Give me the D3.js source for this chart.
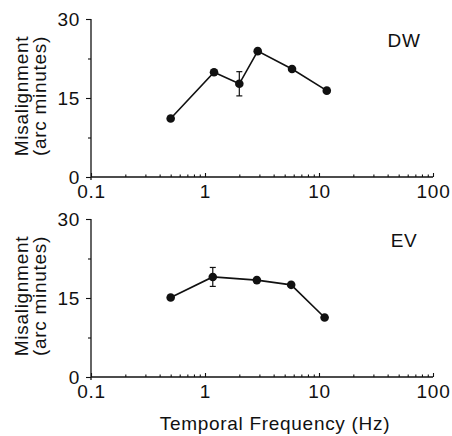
<!DOCTYPE html>
<html>
<head>
<meta charset="utf-8">
<script src="https://cdn.jsdelivr.net/npm/d3@7"></script>
<style>
  body { margin: 0; background: #fff; }
  text { font-family: "Liberation Sans", Arial, sans-serif; fill: #111; }
</style>
</head>
<body>
<div id="chart"></div>
<script>
// data
var dwFreq = [0.5, 1.2, 2, 2.9, 5.8, 11.7];
var dwMis  = [11.1, 19.9, 17.7, 23.9, 20.5, 16.4];
var dwErr  = [0, 0, 2.3, 0, 0, 0];

var evFreq = [0.5, 1.17, 2.85, 5.7, 11.2];
var evMis  = [15.1, 19.0, 18.4, 17.5, 11.3];
var evErr  = [0, 1.8, 0, 0, 0];

var yMajor = [0, 15, 30];
var yMinor = [7.5, 22.5];
var xMajor = [0.1, 1, 10, 100];

var panels = [
    { name: "DW", freq: dwFreq, mis: dwMis, err: dwErr, top: 19,  bottom: 177 },
    { name: "EV", freq: evFreq, mis: evMis, err: evErr, top: 219, bottom: 377 }
];

var width = 452, height = 436;
var fontSize = 19;
var spacing = "0.7px";

var svg = d3.select("#chart").append("svg")
    .attr("width", width)
    .attr("height", height);

var x = d3.scaleLog().domain([0.1, 100]).range([91, 433]);

// minor ticks 2..9 in each decade
var xMinor = [];
[0.1, 1, 10].forEach(function(d) {
    for (var k = 2; k <= 9; k++) xMinor.push(d * k);
});

function styleText(sel) {
    sel.selectAll("text")
        .style("font-size", fontSize + "px")
        .style("letter-spacing", spacing)
        .attr("fill", "#111");
}

panels.forEach(function(p) {
    var y = d3.scaleLinear().domain([0, 30]).range([p.bottom, p.top]);
    var g = svg.append("g");

    // x axis line
    g.append("line")
        .attr("x1", x(0.1)).attr("x2", x(100))
        .attr("y1", y(0)).attr("y2", y(0))
        .attr("stroke", "#111").attr("stroke-width", 1.3);

    // y axis line (runs a bit past the x axis)
    g.append("line")
        .attr("x1", x(0.1)).attr("x2", x(0.1))
        .attr("y1", y(30)).attr("y2", y(0) + 3)
        .attr("stroke", "#111").attr("stroke-width", 1.3);

    // x ticks, pointing up
    var xa = g.append("g")
        .attr("transform", "translate(0," + y(0) + ")")
        .call(d3.axisBottom(x).tickValues(xMajor)
            .tickFormat(function(d) { return d; })
            .tickSizeInner(-4).tickSizeOuter(0).tickPadding(8));
    xa.select(".domain").remove();
    styleText(xa);

    var xm = g.append("g")
        .attr("transform", "translate(0," + y(0) + ")")
        .call(d3.axisBottom(x).tickValues(xMinor)
            .tickFormat("").tickSizeInner(-2.5).tickSizeOuter(0));
    xm.select(".domain").remove();

    // y ticks, pointing left
    var ya = g.append("g")
        .attr("transform", "translate(" + x(0.1) + ",0)")
        .call(d3.axisLeft(y).tickValues(yMajor)
            .tickSizeInner(5).tickSizeOuter(0).tickPadding(6));
    ya.select(".domain").remove();
    styleText(ya);

    var ym = g.append("g")
        .attr("transform", "translate(" + x(0.1) + ",0)")
        .call(d3.axisLeft(y).tickValues(yMinor)
            .tickFormat("").tickSizeInner(3).tickSizeOuter(0));
    ym.select(".domain").remove();

    g.selectAll(".tick line").attr("stroke", "#111").attr("stroke-width", 1.1);

    // y label
    var yc = (p.top + p.bottom) / 2 - 2;
    var lab = g.append("text")
        .attr("transform", "translate(28," + yc + ") rotate(-90)")
        .attr("text-anchor", "middle")
        .style("font-size", fontSize + "px")
        .style("letter-spacing", spacing);
    lab.append("tspan").attr("x", 0).attr("y", 0).text("Misalignment");
    lab.append("tspan").attr("x", 0).attr("y", 18).text("(arc minutes)");

    // subject label
    g.append("text")
        .attr("x", 404).attr("y", p.top + 28)
        .attr("text-anchor", "middle")
        .style("font-size", fontSize + "px")
        .style("letter-spacing", spacing)
        .text(p.name);

    var pts = p.freq.map(function(f, i) {
        return { f: f, v: p.mis[i], e: p.err[i] };
    });

    // data line
    g.append("path")
        .datum(pts)
        .attr("fill", "none")
        .attr("stroke", "#111")
        .attr("stroke-width", 1.6)
        .attr("d", d3.line()
            .x(function(d) { return x(d.f); })
            .y(function(d) { return y(d.v); }));

    // error bars
    var eb = g.append("g").selectAll("g")
        .data(pts.filter(function(d) { return d.e > 0; }))
        .enter().append("g")
        .attr("stroke", "#111").attr("stroke-width", 1.2);
    eb.append("line")
        .attr("x1", function(d) { return x(d.f); })
        .attr("x2", function(d) { return x(d.f); })
        .attr("y1", function(d) { return y(d.v + d.e); })
        .attr("y2", function(d) { return y(d.v - d.e); });
    eb.append("line")
        .attr("x1", function(d) { return x(d.f) - 3; })
        .attr("x2", function(d) { return x(d.f) + 3; })
        .attr("y1", function(d) { return y(d.v + d.e); })
        .attr("y2", function(d) { return y(d.v + d.e); });
    eb.append("line")
        .attr("x1", function(d) { return x(d.f) - 3; })
        .attr("x2", function(d) { return x(d.f) + 3; })
        .attr("y1", function(d) { return y(d.v - d.e); })
        .attr("y2", function(d) { return y(d.v - d.e); });

    // dots
    g.append("g").selectAll("circle")
        .data(pts)
        .enter().append("circle")
        .attr("cx", function(d) { return x(d.f); })
        .attr("cy", function(d) { return y(d.v); })
        .attr("r", 4.3)
        .attr("fill", "#111");
});

// x label
svg.append("text")
    .attr("x", 275).attr("y", 430)
    .attr("text-anchor", "middle")
    .style("font-size", fontSize + "px")
    .style("letter-spacing", spacing)
    .text("Temporal Frequency (Hz)");
</script>
</body>
</html>
